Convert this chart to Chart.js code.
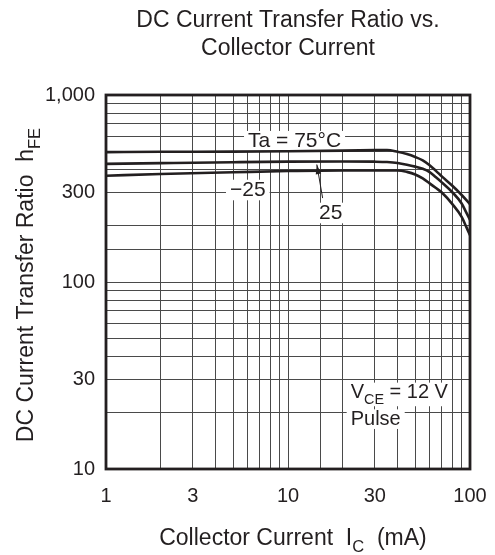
<!DOCTYPE html>
<html lang="en">
  <head>
    <meta charset="UTF-8" />
    <title>DC Current Transfer Ratio vs. Collector Current</title>
    <script src="https://cdn.jsdelivr.net/npm/chart.js"></script>
    <style>
      body { margin: 0; background: #fff; }
    </style>
  </head>
  <body>
    <canvas id="myChart" width="495" height="555"></canvas>

    <script>
      // collector current (mA) and hFE
      const currents = [1, 2, 5, 10, 20, 30, 35, 40, 45, 50, 55, 60, 65, 70, 80, 90, 95, 100];
      const hfe75 = [495, 497, 498, 500, 504, 507, 508, 497, 483, 466, 447, 421, 393, 367, 327, 292, 276, 261];
      const hfe25 = [428, 432, 437, 440, 441, 440, 438, 433, 424, 414, 403, 387, 363, 341, 302, 263, 237, 215];
      const hfeMinus25 = [370, 378, 386, 392, 395, 395, 395, 395, 388, 376, 358, 337, 318, 301, 261, 223, 199, 178];

      const xTickLabels = [1, 3, 10, 30, 100];
      const yTickLabels = [10, 30, 100, 300, 1000];

      const FONT = "'Liberation Sans', Arial, sans-serif";
      const INK = "#231f20";

      const toPoints = (values) => currents.map((c, i) => ({ x: c, y: values[i] }));

      // text made of pieces, some of them subscript
      function richText(ctx, parts, x, y, size, align, draw) {
        let total = 0;
        parts.forEach((p) => {
          ctx.font = (p.sub ? size * 0.72 : size) + "px " + FONT;
          p.w = ctx.measureText(p.t).width;
          total += p.w;
        });
        let cx = align === "center" ? x - total / 2 : x;
        const left = cx;
        if (draw !== false) {
          ctx.textAlign = "left";
          ctx.textBaseline = "alphabetic";
          parts.forEach((p) => {
            ctx.font = (p.sub ? size * 0.72 : size) + "px " + FONT;
            ctx.fillText(p.t, cx, p.sub ? y + size * 0.3 : y);
            cx += p.w;
          });
        }
        return { left: left, width: total };
      }

      const labels = [
        { parts: [{ t: "Ta = 75°C" }], x: 6.03, y: 525, size: 21 },
        { parts: [{ t: "\u221225" }], x: 4.8, y: 288, size: 21 },
        { parts: [{ t: "25" }], x: 14.8, y: 217, size: 21 },
        { parts: [{ t: "V" }, { t: "CE", sub: true }, { t: " = 12 V" }], x: 22.1, y: 23.9, size: 20 },
        { parts: [{ t: "Pulse" }], x: 22.1, y: 17.2, size: 20 },
      ];

      const notes = {
        id: "notes",
        beforeDatasetsDraw(chart) {
          const ctx = chart.ctx;
          const xs = chart.scales.x;
          const ys = chart.scales.y;
          ctx.save();
          labels.forEach((l) => {
            const px = xs.getPixelForValue(l.x);
            const py = ys.getPixelForValue(l.y);
            const m = richText(ctx, l.parts, px, py, l.size, "left", false);
            const sub = l.parts.some((p) => p.sub) ? 4 : 0;
            ctx.fillStyle = "#fff";
            ctx.fillRect(m.left - 4, py - l.size * 0.78, m.width + 8, l.size * 0.98 + sub);
            ctx.fillStyle = INK;
            richText(ctx, l.parts, px, py, l.size, "left");
          });
          ctx.restore();
        },
        afterDatasetsDraw(chart) {
          // arrow pointing at the 25 curve
          const ctx = chart.ctx;
          const xs = chart.scales.x;
          const ys = chart.scales.y;
          const x0 = xs.getPixelForValue(15.5), y0 = ys.getPixelForValue(281);
          const x1 = xs.getPixelForValue(14.4), y1 = ys.getPixelForValue(425);
          const a = Math.atan2(y1 - y0, x1 - x0);
          ctx.save();
          ctx.strokeStyle = INK;
          ctx.fillStyle = INK;
          ctx.lineWidth = 1;
          ctx.beginPath();
          ctx.moveTo(x0, y0);
          ctx.lineTo(x1, y1);
          ctx.stroke();
          ctx.beginPath();
          ctx.moveTo(x1, y1);
          ctx.lineTo(x1 - 10 * Math.cos(a - 0.28), y1 - 10 * Math.sin(a - 0.28));
          ctx.lineTo(x1 - 10 * Math.cos(a + 0.28), y1 - 10 * Math.sin(a + 0.28));
          ctx.closePath();
          ctx.fill();
          ctx.restore();
        },
        afterDraw(chart) {
          const ctx = chart.ctx;
          const area = chart.chartArea;
          const mid = (area.left + area.right) / 2;
          ctx.save();
          ctx.strokeStyle = INK;
          ctx.lineWidth = 2.8;
          ctx.strokeRect(area.left, area.top, area.right - area.left, area.bottom - area.top);

          ctx.fillStyle = INK;
          ctx.font = "23px " + FONT;
          ctx.textAlign = "center";
          ctx.textBaseline = "alphabetic";
          ctx.fillText("DC Current Transfer Ratio vs.", mid, 27);
          ctx.fillText("Collector Current", mid, 55);

          richText(ctx, [{ t: "Collector Current  I" }, { t: "C", sub: true }, { t: "  (mA)" }], 293, 545, 23, "center");

          ctx.translate(33, (area.top + area.bottom) / 2 + 3);
          ctx.rotate(-Math.PI / 2);
          richText(ctx, [{ t: "DC Current Transfer Ratio  h" }, { t: "FE", sub: true }], 0, 0, 23, "center");
          ctx.restore();
        },
      };

      const ctx = document.getElementById("myChart").getContext("2d");
      const myChart = new Chart(ctx, {
        type: "line",
        data: {
          datasets: [
            { label: "75", data: toPoints(hfe75) },
            { label: "25", data: toPoints(hfe25) },
            { label: "-25", data: toPoints(hfeMinus25) },
          ],
        },
        options: {
          responsive: false,
          animation: false,
          layout: { padding: { top: 95, right: 25, bottom: 0, left: 0 } },
          elements: {
            line: { borderColor: INK, borderWidth: 2.6, cubicInterpolationMode: "monotone" },
            point: { radius: 0 },
          },
          plugins: { legend: { display: false }, title: { display: false }, tooltip: { enabled: false } },
          scales: {
            x: {
              type: "logarithmic",
              min: 1,
              max: 100,
              afterFit: (s) => {
                s.height = 86;
                s.paddingLeft = 0;
                s.paddingRight = 0;
              },
              grid: { color: "#4a4a4a", lineWidth: 1, drawTicks: false },
              border: { display: false },
              ticks: {
                autoSkip: false,
                maxRotation: 0,
                padding: 15,
                color: INK,
                font: { family: FONT, size: 20 },
                callback: (v) => (xTickLabels.includes(v) ? String(v) : ""),
              },
            },
            y: {
              type: "logarithmic",
              min: 10,
              max: 1000,
              afterFit: (s) => {
                s.width = 106;
                s.paddingTop = 0;
                s.paddingBottom = 0;
              },
              grid: { color: "#4a4a4a", lineWidth: 1, drawTicks: false },
              border: { display: false },
              ticks: {
                autoSkip: false,
                padding: 11,
                color: INK,
                font: { family: FONT, size: 20 },
                callback: (v) => (yTickLabels.includes(v) ? v.toLocaleString("en-US") : ""),
              },
            },
          },
        },
        plugins: [notes],
      });
    </script>
  </body>
</html>
